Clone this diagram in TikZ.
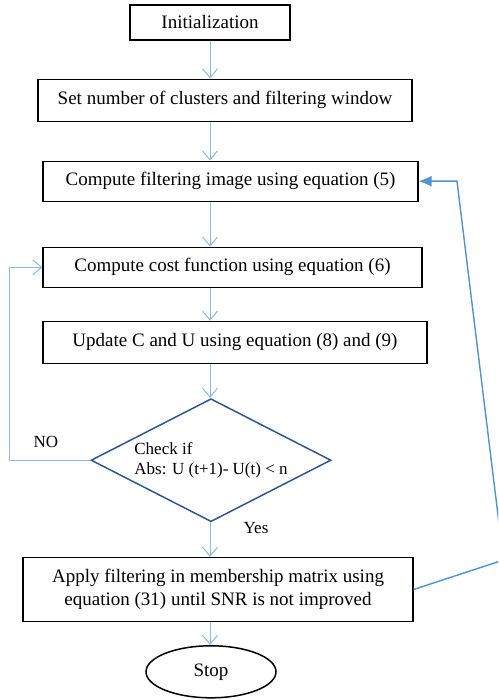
\documentclass[tikz,border=0pt]{standalone}
\usepackage{fontspec}
\setmainfont{Liberation Serif}
\usepackage{tikz}
\usetikzlibrary{arrows.meta}
\usetikzlibrary{positioning,shapes.geometric}
\definecolor{flowblue}{RGB}{143,187,229}
\definecolor{loopblue}{RGB}{82,146,208}
\definecolor{decblue}{RGB}{47,88,140}

\begin{document}
\begin{tikzpicture}[x=1pt,y=-1pt,
			process/.style={rectangle, draw=black, line width=1.1pt, align=center, inner sep=2pt,
					text=black, font=\fontsize{19}{23}\selectfont},
			decision/.style={diamond, draw=decblue, line width=1.5pt, aspect=1.95, inner sep=0pt,
					minimum width=240pt, minimum height=123pt, align=left, font=\fontsize{17}{19.5}\selectfont},
			terminal/.style={ellipse, draw=black, line width=1.5pt, minimum width=130pt, minimum height=52pt,
					font=\fontsize{19}{23}\selectfont},
			flow/.style={draw=flowblue, line width=1pt, -{Straight Barb[length=9pt,width=15pt]}},
			tag/.style={font=\fontsize{17}{20}\selectfont},]
		\useasboundingbox (0,0) rectangle (498,700);
		\clip (0,0) rectangle (498,700);

		\node (init) [process, minimum width=160pt, minimum height=35pt] at (210,22.5) {Initialization};

		\node (setup) [process, minimum width=374pt, minimum height=42pt, below=38pt of init, xshift=15pt]
		{Set number of clusters and filtering window};

		\node (filtimg) [process, minimum width=375pt, minimum height=40pt, below=39pt of setup, xshift=5.5pt]
		{Compute filtering image using equation (5)};

		\node (cost) [process, minimum width=379pt, minimum height=40pt, below=45pt of filtimg, xshift=2pt]
		{Compute cost function using equation (6)};

		\node (update) [process, minimum width=384pt, minimum height=42pt, below=33pt of cost, xshift=2.5pt]
		{Update C and U using equation (8) and (9)};

		\node (check) [decision, below=34pt of update, xshift=-24pt]
		{Check if \\ Abs: U (t+1)- U(t) < n};

		\node (apply) [process, minimum width=390pt, minimum height=64pt, below=34.5pt of check, xshift=7pt]
		{Apply filtering in membership matrix using \\ equation (31) until SNR is not improved};

		\node (stop) [terminal, below=23pt of apply, xshift=-7pt] {Stop};

		\node (no) [tag] at (46,442) {NO};
		\node (yes) [tag] at (256,528) {Yes};

		\coordinate (axis) at (210,0);
		\coordinate (bend) at (457,0);
		\coordinate (offpage) at (503.5,560);

		\foreach \a/\b in {init/setup, setup/filtimg, filtimg/cost, cost/update, update/check, check/apply, apply/stop}
		\draw [flow] (axis |- \a.south) -- (axis |- \b.north);

		\draw [flow] (check.west) -- ++(-81,0) |- (cost.west);
		\draw [loopblue, line width=1.4pt, -{Latex[length=13pt,width=11pt]}]
		(apply.east) -- (offpage) -- (bend |- filtimg.east) -- (filtimg.east);
	\end{tikzpicture}
\end{document}
